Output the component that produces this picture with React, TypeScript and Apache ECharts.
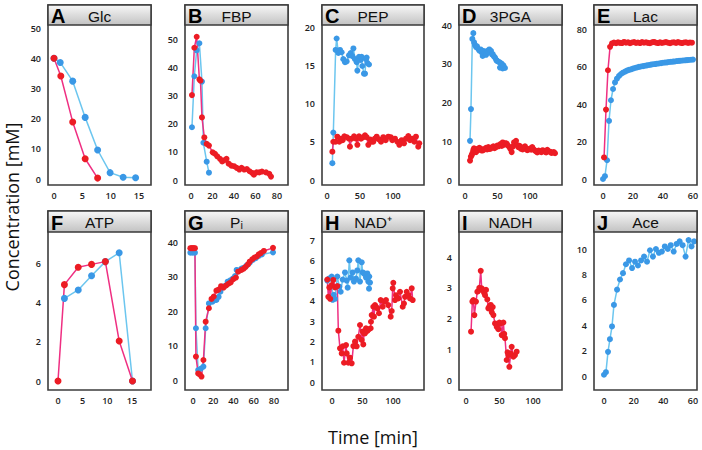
import React, { useEffect, useRef } from 'react';
import * as echarts from 'echarts';

type Pt = [number, number];

// ---------- data ----------
const glcBlue: Pt[] = [[0, 40], [1.1, 38.6], [3.3, 32.4], [5.5, 20.4], [7.7, 9.6], [9.9, 2.1], [12.2, 0.6], [14.4, 0.4]];
const glcRed: Pt[] = [[0, 40], [1.2, 34.1], [3.3, 18.9], [5.5, 6.7], [7.7, 0.3]];

const fbpBlue: Pt[] = [[0.9, 18.7], [3.1, 36.8], [5.3, 46.0], [7.8, 48.5], [10.2, 34.9], [11.5, 13.2], [14.6, 6.5], [16.7, 2.6]];
const fbpRed: Pt[] = [[0.9, 30.1], [3.1, 46.9], [5.3, 50.8], [7.8, 35.7], [8.8, 35.2], [10.2, 22.2], [12.4, 15.1], [14.6, 12.8], [16.7, 12.2],
  [20.2, 9.8], [22.3, 9.3], [24.4, 8.4], [27, 7.5], [29, 6.6], [31, 7.0], [33, 7.5], [35, 5.8], [37.5, 5.1], [40, 4.9], [42.5, 4.3],
  [45, 3.7], [47, 4.3], [49.5, 3.7], [52, 3.9], [54.5, 3.1], [57, 2.5], [58.5, 1.9], [61, 2.7], [63.5, 2.7], [66, 3.0], [69.8, 2.7],
  [72.8, 2.2], [74.4, 1.2]];

const pepBlue: Pt[] = [[8.1, 2.2], [9.6, 6.2], [13.1, 17.0], [14.6, 18.5], [17.2, 16.6], [19.7, 17.0], [22.2, 16.7], [24.7, 15.8],
  [27.3, 15.4], [29.8, 15.5], [33.3, 16.3], [35.9, 16.6], [38.4, 16.2], [40, 17.2], [42.4, 15.8], [45, 15.4], [46, 14.3], [48.5, 16.1],
  [51, 15.7], [52.5, 16.1], [53.5, 14.9], [56, 13.9], [57.6, 13.9], [59, 15.8], [60, 16.0], [61, 15.3], [63.6, 15.1]];
const pepRed: Pt[] = [[8.1, 3.7], [9.6, 5.0], [13.1, 5.0], [15.6, 5.66], [18.7, 5.0], [21.2, 5.4], [23.7, 5.2], [26.3, 5.7], [29.8, 5.6],
  [33.3, 5.4], [34.8, 4.35], [37.4, 5.4], [41, 5.7], [44, 5.4], [46, 4.6], [48.5, 5.7], [51.5, 5.4], [55, 5.6], [57.6, 5.85], [60, 5.6],
  [62.6, 4.6], [65.2, 5.3], [67.7, 5.0], [70.2, 5.0], [72.5, 5.4], [75.3, 5.66], [78.8, 5.3], [81.8, 5.0], [85.3, 5.6], [88.9, 5.2],
  [92.9, 5.66], [96.5, 5.6], [99, 5.2], [103, 5.4], [106.6, 5.0], [109.6, 4.6], [113.2, 5.2], [116.7, 4.8], [119.7, 5.4], [123.2, 5.75],
  [125.8, 5.2], [129.3, 5.4], [132.3, 5.0], [134.8, 5.66], [138.3, 4.35], [139.8, 4.8]];

const pgaBlue: Pt[] = [[7.7, 10.1], [9.2, 18.3], [11.3, 36.4], [12.8, 37.9], [14, 35.5], [15.4, 34.8], [17, 34.3], [18.5, 34.5],
  [20.5, 33.8], [22, 33.4], [24, 33.7], [25.7, 32.9], [27.2, 32.0], [28.2, 33.3], [30.8, 32.7], [32.5, 32.3], [34.3, 33.3], [36, 33.0],
  [37.4, 33.7], [40, 33.3], [41.5, 32.4], [42.6, 32.5], [44.5, 31.9], [46.2, 31.6], [48, 31.0], [48.8, 30.8], [50.5, 30.6], [52.8, 30.4],
  [53.8, 29.0], [55.5, 30.1], [56.4, 30.0], [57.9, 28.8], [59, 29.6], [61.5, 28.9]];
const pgaRed: Pt[] = [[7.7, 5.0], [9, 6.0], [10.3, 6.4], [11.3, 6.9], [12.8, 7.7], [13.8, 8.2], [15.4, 7.9], [17, 7.2], [18.5, 8.0],
  [20.5, 7.7], [22, 8.3], [24.1, 8.1], [26, 7.6], [28.2, 7.7], [30, 8.0], [32.3, 8.3], [34, 7.9], [35.9, 8.5], [37.5, 8.0], [39.5, 8.1],
  [41.5, 8.4], [43.6, 8.7], [45.5, 8.2], [47.7, 8.5], [49.5, 8.9], [51.3, 8.7], [53, 9.0], [55, 9.3], [56.5, 8.8], [58, 9.7], [60.5, 9.1],
  [62, 9.5], [64.1, 9.4], [66, 8.9], [68.2, 8.5], [70, 8.0], [71.8, 7.2], [73.5, 8.6], [75.4, 9.7], [77, 9.3], [78.5, 10.1], [80.3, 9.0],
  [82, 8.5], [84, 8.8], [85.6, 8.1], [87, 8.4], [88.7, 7.9], [90.5, 8.2], [92.3, 8.7], [94, 8.0], [95.8, 7.7], [98, 7.9], [100, 8.1],
  [101.8, 7.8], [103.5, 8.5], [105.5, 7.9], [107.7, 7.6], [109.5, 7.4], [111.2, 7.1], [113.3, 7.6], [115.4, 7.4], [117.5, 7.2],
  [119.5, 7.7], [121, 7.5], [123, 7.3], [124.8, 7.1], [126.6, 7.8], [128.7, 7.4], [130.8, 7.3], [132.8, 7.0], [134.9, 7.1], [136.7, 7.2],
  [138.5, 6.9]];

const lacBlueX = [0, 1.3, 2.7, 4, 5.3, 6.7, 8, 9.3, 10.7, 12, 13.3, 14.7, 16, 17.3, 18.7, 20, 21.3, 22.7, 24, 25.3, 26.7, 28, 29.3,
  30.7, 32, 33.3, 34.7, 36, 37.3, 38.7, 40, 41.3, 42.7, 44, 45.3, 46.7, 48, 49.3, 50.7, 52, 53.3, 54.7, 56, 57.3, 58.7, 60];
const lacBlueY = [0, 1.5, 10, 31, 42, 48, 51.5, 53.5, 55, 56, 56.7, 57.3, 57.8, 58.2, 58.5, 58.9, 59.2, 59.5, 59.8, 60, 60.2, 60.4,
  60.6, 60.8, 61, 61.2, 61.3, 61.5, 61.6, 61.8, 62, 62.1, 62.2, 62.4, 62.5, 62.6, 62.7, 62.9, 63, 63.1, 63.2, 63.3, 63.4, 63.5, 63.6, 63.7];
const lacRedX = [0.7, 2, 3.3, 4.7, 6, 7.3, 8.7, 10, 11.3, 12.7, 14, 15.3, 16.7, 18, 19.3, 20.7, 22, 23.3, 24.7, 26, 27.3, 28.7, 30,
  31.3, 32.7, 34, 35.3, 36.7, 38, 39.3, 40.7, 42, 43.3, 44.7, 46, 47.3, 48.7, 50, 51.3, 52.7, 54, 55.3, 56.7, 58, 59.3];
const lacRedY = [11.5, 37, 58, 70.5, 72.3, 72.8, 72.4, 72.9, 72.6, 72.5, 73.1, 72.7, 72.9, 72.4, 72.8, 73, 72.6, 72.8, 72.5, 73, 72.7,
  72.9, 72.6, 72.4, 72.9, 73.1, 72.7, 72.5, 72.9, 72.6, 72.8, 73, 72.7, 72.4, 72.8, 72.9, 72.6, 73, 72.7, 72.5, 72.8, 72.9, 72.6, 72.8, 72.7];

const atpBlue: Pt[] = [[1.3, 4.2], [4.1, 4.63], [6.8, 5.35], [9.6, 6.07], [12.4, 6.52], [15.1, 0]];
const atpRed: Pt[] = [[0, 0], [1.3, 4.9], [4.1, 5.78], [6.8, 5.93], [9.6, 6.07], [12.4, 2.03], [15.1, 0]];

const piBlue: Pt[] = [[-2.6, 36.9], [-0.3, 36.9], [1.9, 36.9], [2.9, 15.0], [5.1, 2.9], [7.9, 3.3], [10.3, 3.9], [12.5, 15.0],
  [15.7, 22.2], [19.3, 22.7], [21.5, 23.2], [23.1, 23.2], [25.3, 24.1], [27.1, 25.6], [28.9, 26.8], [31, 27.2], [34.2, 28.5],
  [36.8, 28.9], [39.3, 29.4], [41.5, 30.1], [43.1, 31.9], [45.6, 31.7], [47.9, 32.3], [50, 32.5], [53, 33.2], [56, 34], [59, 34.8],
  [62, 35.3], [65, 36], [68, 36.4], [79, 37]];
const piRed: Pt[] = [[-2.6, 38.2], [-1.3, 38.2], [-0.3, 38.2], [0.8, 38.2], [1.9, 38.2], [2.9, 6.8], [5.1, 1.9], [6.7, 1.6], [8.4, 1.0],
  [10.3, 5.8], [12.5, 16.9], [15.7, 20.8], [18.3, 23.5], [20.5, 24.2], [23.1, 25.9], [25.3, 26.2], [27.7, 27.2], [30.2, 26.8],
  [32.8, 27.4], [35, 27.9], [37.3, 28.3], [39.8, 29.2], [42.4, 29.7], [44.6, 31.4], [47.9, 31.9], [50.1, 32.3], [52, 32.8], [54.3, 33.5],
  [56, 34.3], [58.5, 35], [60.7, 35.5], [63, 35.8], [64.9, 36.4], [67, 36.8], [70, 37.4], [79, 38.3]];

const nadBlue: Pt[] = [[-7.7, 5.0], [-5, 5.1], [-3.3, 5.1], [-0.5, 5.2], [1.1, 4.05], [3, 4.3], [4.9, 4.1], [8.7, 5.2], [12, 4.7],
  [14.2, 4.45], [17.5, 5.05], [21.3, 5.4], [24.1, 5.0], [25.7, 4.65], [28.4, 6.0], [30.6, 5.15], [33.9, 5.4], [36, 4.95], [39.3, 5.1],
  [41.5, 5.5], [43.1, 6.0], [45.9, 4.95], [48.7, 5.9], [50.3, 5.4], [52.5, 5.35], [54.1, 5.3], [55.7, 5.15], [57.9, 5.35], [59.5, 4.95],
  [60.7, 4.6], [61.1, 5.2], [62.3, 4.9]];
const nadRed: Pt[] = [[-7.7, 5.05], [-6, 4.2], [-4.4, 4.66], [-3, 4.1], [-0.5, 4.78], [2.2, 5.03], [4.9, 4.66], [8.7, 4.73], [10.4, 2.53],
  [13.1, 1.66], [15.9, 1.41], [17.5, 1.76], [19.7, 0.95], [23, 1.82], [24.1, 1.41], [26.7, 0.95], [29.5, 1.2], [32.3, 0.92], [35, 1.77],
  [37.7, 1.99], [40.5, 1.76], [43.1, 2.23], [45.9, 2.81], [48.7, 2.07], [50.3, 2.49], [51.3, 1.85], [52.5, 2.4], [54.1, 2.4], [55.7, 2.65],
  [57.9, 2.52], [60.7, 2.6], [63.4, 2.65], [63.9, 2.97], [65.1, 3.3], [67.7, 3.71], [68.8, 3.22], [70.5, 3.79], [72.1, 3.71], [74.3, 3.63],
  [77, 3.39], [79.8, 4.04], [83.1, 3.71], [85.7, 3.96], [88.5, 4.04], [92.3, 3.79], [96.2, 3.22], [97.9, 3.5], [99.5, 4.62], [100.5, 4.89],
  [103.3, 4.04], [104.9, 4.28], [108.7, 4.12], [111.5, 4.45], [115.9, 3.71], [118, 3.87], [119.7, 4.2], [122.5, 4.45], [125.1, 4.28],
  [127.9, 4.12], [130.7, 4.62], [132.3, 4.04]];

const nadhRed: Pt[] = [[7.5, 1.57], [9.5, 2.55], [11, 2.6], [12.5, 2.11], [14.9, 2.55], [16.9, 2.87], [18.5, 2.9], [19.9, 3.0], [22, 3.55],
  [23.4, 2.98], [25, 2.93], [26.9, 2.84], [28.4, 2.76], [29.9, 2.93], [31.8, 2.62], [33.3, 2.33], [34.8, 2.39], [36.9, 2.44], [38.5, 2.2],
  [39.9, 2.37], [40.9, 2.11], [43.3, 1.84], [45.8, 1.73], [47, 1.8], [48.3, 1.65], [49.8, 1.87], [51.8, 1.84], [53.3, 1.46], [55.8, 1.87],
  [57, 1.5], [58.2, 1.36], [60.7, 0.65], [62, 0.9], [63.2, 0.81], [64.7, 0.43], [66.7, 0.86], [68.2, 1.08], [70.7, 0.76], [73.1, 0.81],
  [75.6, 0.92]];

const aceBlue: Pt[] = [[0, 0.1], [1.3, 0.3], [2.7, 1.9], [4, 2.9], [5.4, 3.9], [6.7, 5.6], [8.8, 6.8], [10.8, 7.6], [12.8, 8.1],
  [14.8, 8.8], [16.9, 9.1], [18.9, 8.5], [20.9, 9.0], [22.9, 8.7], [25, 9.1], [27, 9.4], [29, 9.0], [31, 9.9], [33, 9.4], [35, 10.0],
  [37, 9.7], [39, 9.8], [41, 10.2], [43, 10.0], [45, 10.3], [47, 9.8], [49, 10.4], [51, 10.6], [53, 10.3], [55, 9.4], [57, 10.7],
  [59, 10.2], [60.7, 10.6]];

const panelLetters = ['A', 'B', 'C', 'D', 'E', 'F', 'G', 'H', 'I', 'J'];
const panelTitles = ['Glc', 'FBP', 'PEP', '3PGA', 'Lac', 'ATP', 'Pᵢ', 'NAD⁺', 'NADH', 'Ace'];
const xTickLabels = [[0, 5, 10, 15], [0, 20, 40, 60, 80], [0, 50, 100], [0, 50, 100], [0, 20, 40, 60],
  [0, 5, 10, 15], [0, 20, 40, 60, 80], [0, 50, 100], [0, 50, 100], [0, 20, 40, 60]];
const yTickLabels = [[0, 10, 20, 30, 40, 50], [0, 10, 20, 30, 40, 50], [0, 5, 10, 15, 20], [0, 10, 20, 30, 40], [0, 20, 40, 60, 80],
  [0, 2, 4, 6], [0, 10, 20, 30, 40], [0, 1, 2, 3, 4, 5, 6, 7], [0, 1, 2, 3, 4], [0, 2, 4, 6, 8, 10]];

const zip = (xs: number[], ys: number[]): Pt[] => xs.map((x, i) => [x, ys[i]]);
const blueSeries: (Pt[] | null)[] = [glcBlue, fbpBlue, pepBlue, pgaBlue, zip(lacBlueX, lacBlueY), atpBlue, piBlue, nadBlue, null, aceBlue];
const redSeries: (Pt[] | null)[] = [glcRed, fbpRed, pepRed, pgaRed, zip(lacRedX, lacRedY), atpRed, piRed, nadRed, nadhRed, null];

// ---------- layout ----------
const colX = [[48, 151], [185, 288], [322, 424], [459, 562], [594, 697]];
const rowY = [{ t: 5, hb: 25, b: 185 }, { t: 211, hb: 232, b: 390 }];
// pixel positions of first and last tick labels
const xAnchors = [[54, 139], [191, 277], [327, 393], [465, 530], [603, 693], [58, 132], [193, 274], [332, 393], [466, 533], [604, 693]];
const yAnchors = [[179, 28], [180, 39], [180, 27], [180, 25], [179, 29], [381, 263], [380, 242], [382, 240], [380, 257], [376, 249]];

const BLUE_PT = '#3a98e6';
const BLUE_LN = '#6cc6ef';
const RED_PT = '#ec1c24';
const RED_LN = '#ef2f82';
const FONT = '"Open Sans", "DejaVu Sans", sans-serif';

const lin = (v0: number, v1: number, p0: number, p1: number, p: number) => v0 + ((p - p0) * (v1 - v0)) / (p1 - p0);

function buildOption() {
  const grid: any[] = [];
  const xAxis: any[] = [];
  const yAxis: any[] = [];
  const series: any[] = [];
  const graphic: any[] = [];

  for (let i = 0; i < 10; i++) {
    const [l, r] = colX[i % 5];
    const { t, hb, b } = rowY[Math.floor(i / 5)];
    const xt = xTickLabels[i];
    const yt = yTickLabels[i];
    const [px0, px1] = xAnchors[i];
    const [py0, py1] = yAnchors[i];
    const xv0 = xt[0], xv1 = xt[xt.length - 1];
    const yv0 = yt[0], yv1 = yt[yt.length - 1];

    grid.push({ left: l, top: hb, width: r - l, height: b - hb, show: false });
    xAxis.push({
      type: 'value', gridIndex: i,
      min: lin(xv0, xv1, px0, px1, l), max: lin(xv0, xv1, px0, px1, r),
      axisLine: { show: false }, axisTick: { show: false }, splitLine: { show: false },
      axisLabel: { customValues: xt, margin: 6, fontSize: 9, fontWeight: 600, color: '#222', fontFamily: FONT },
    });
    yAxis.push({
      type: 'value', gridIndex: i,
      min: lin(yv0, yv1, py0, py1, b), max: lin(yv0, yv1, py0, py1, hb),
      axisLine: { show: false }, axisTick: { show: false }, splitLine: { show: false },
      axisLabel: { customValues: yt, margin: 7, fontSize: 9, fontWeight: 600, color: '#222', fontFamily: FONT },
    });

    const common = {
      type: 'line', xAxisIndex: i, yAxisIndex: i, symbol: 'circle', animation: false, silent: true,
      emphasis: { disabled: true }, clip: false,
    };
    const blue = blueSeries[i];
    if (blue) {
      series.push({ ...common, data: blue, symbolSize: i === 0 || i === 5 ? 7 : 6,
        lineStyle: { color: BLUE_LN, width: 1.5 }, itemStyle: { color: BLUE_PT } });
    }
    const red = redSeries[i];
    if (red) {
      series.push({ ...common, data: red, symbolSize: i === 0 || i === 5 ? 7 : 6,
        lineStyle: { color: RED_LN, width: 1.5 }, itemStyle: { color: RED_PT } });
    }

    // frame
    graphic.push({ type: 'rect', z: 100, silent: true,
      shape: { x: l, y: t, width: r - l, height: b - t },
      style: { fill: 'none', stroke: '#3d3d3d', lineWidth: 1.6 } });
    // header
    graphic.push({ type: 'rect', z: 101, silent: true,
      shape: { x: l, y: t, width: r - l, height: hb - t },
      style: {
        fill: { type: 'linear', x: 0, y: 0, x2: 0, y2: 1, colorStops: [{ offset: 0, color: '#f7f7f7' }, { offset: 1, color: '#c2c2c2' }] },
        stroke: '#3a3a3a', lineWidth: 1.5,
      } });
    graphic.push({ type: 'text', z: 102, silent: true, x: l + 3, y: (t + hb) / 2 + 1,
      style: { text: panelLetters[i], fontSize: 20, fontWeight: 'bold', fontFamily: '"Liberation Sans", Arial, sans-serif', fill: '#000', verticalAlign: 'middle', align: 'left' } });
    graphic.push({ type: 'text', z: 102, silent: true, x: (l + r) / 2, y: (t + hb) / 2 + 1,
      style: { text: panelTitles[i], fontSize: 15.5, fontFamily: '"Liberation Sans", Arial, sans-serif', fill: '#111', verticalAlign: 'middle', align: 'center' } });
  }

  graphic.push({ type: 'text', silent: true, x: 12, y: 207, rotation: Math.PI / 2,
    style: { text: 'Concentration [mM]', fontSize: 18, fontFamily: FONT, fill: '#111', align: 'center', verticalAlign: 'middle' } });
  graphic.push({ type: 'text', silent: true, x: 373, y: 437,
    style: { text: 'Time [min]', fontSize: 18, fontFamily: FONT, fill: '#111', align: 'center', verticalAlign: 'middle' } });

  return { animation: false, backgroundColor: '#fff', grid, xAxis, yAxis, series, graphic };
}

export default function App() {
  const ref = useRef<HTMLDivElement>(null);
  useEffect(() => {
    if (!ref.current) return;
    const chart = echarts.init(ref.current, undefined, { renderer: 'svg' });
    chart.setOption(buildOption() as any);
    return () => chart.dispose();
  }, []);
  return <div ref={ref} style={{ position: 'fixed', left: 0, top: 0, width: 702, height: 450 }} />;
}
